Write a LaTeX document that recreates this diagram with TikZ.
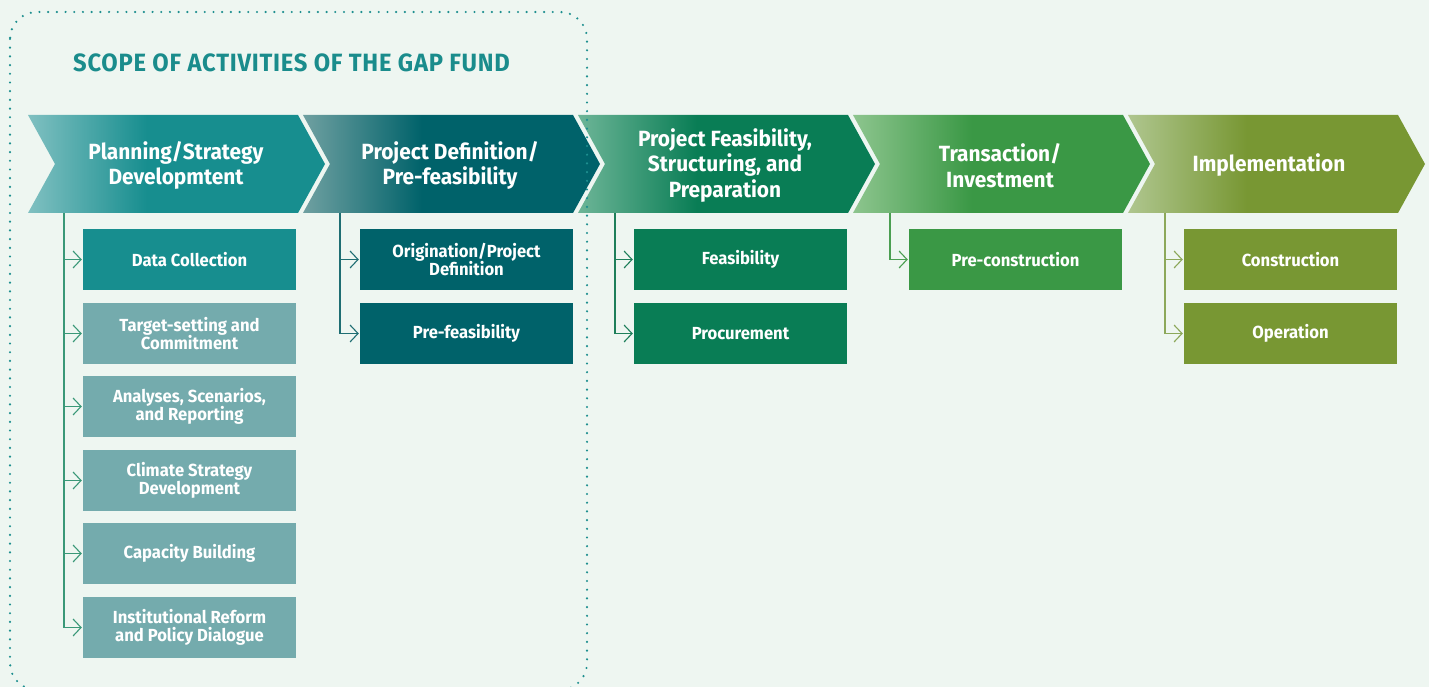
\documentclass[tikz,border=0pt]{standalone}
\usepackage{fontspec}
\usetikzlibrary{arrows.meta,calc}
\newfontfamily\hfont{Fira Sans}[FakeStretch=0.95]
\newfontfamily\ttlfont{Fira Sans}[FakeStretch=0.95,LetterSpace=3]
\definecolor{bg}{HTML}{EEF6F1}
\definecolor{dotc}{HTML}{1E8F8F}
\definecolor{titlec}{HTML}{1A8C8C}
\definecolor{c1full}{HTML}{178E8F}\definecolor{c1light}{HTML}{80C0C1}
\definecolor{c2full}{HTML}{00626A}\definecolor{c2light}{HTML}{6FA0A1}
\definecolor{c3full}{HTML}{097D55}\definecolor{c3light}{HTML}{6DB597}
\definecolor{c4full}{HTML}{3A9845}\definecolor{c4light}{HTML}{8DC58E}
\definecolor{c5full}{HTML}{789733}\definecolor{c5light}{HTML}{AFC68F}
\definecolor{sub1}{HTML}{74ABAD}
\definecolor{l1}{HTML}{3A9878}
\definecolor{l2}{HTML}{1F6E73}
\definecolor{l3}{HTML}{1E7F5A}
\definecolor{l4}{HTML}{4B9E52}
\definecolor{l5}{HTML}{8CA85A}
\pgfdeclarehorizontalshading{sh1}{100bp}{color(0bp)=(c1light); color(25bp)=(c1light); color(45bp)=(c1full); color(100bp)=(c1full)}
\pgfdeclarehorizontalshading{sh2}{100bp}{color(0bp)=(c2light); color(25bp)=(c2light); color(45bp)=(c2full); color(100bp)=(c2full)}
\pgfdeclarehorizontalshading{sh3}{100bp}{color(0bp)=(c3light); color(25bp)=(c3light); color(45bp)=(c3full); color(100bp)=(c3full)}
\pgfdeclarehorizontalshading{sh4}{100bp}{color(0bp)=(c4light); color(25bp)=(c4light); color(45bp)=(c4full); color(100bp)=(c4full)}
\pgfdeclarehorizontalshading{sh5}{100bp}{color(0bp)=(c5light); color(25bp)=(c5light); color(45bp)=(c5full); color(100bp)=(c5full)}
\newcommand\chevpath[2]{%
  \shade[shading=#2] (#1,115) -- ({#1+270},115) -- ({#1+297},164) -- ({#1+270},213) -- (#1,213) -- ({#1+27},164) -- cycle;}
\tikzset{
  headlbl/.style={text=white, align=center, font=\hfont\bfseries\fontsize{22}{25.5}\selectfont},
  subbox/.style={minimum width=213pt, minimum height=61pt, inner sep=0pt, text=white, align=center, font=\hfont\bfseries\fontsize{17.5}{18.5}\selectfont},
  conn/.style={line width=1.1pt},
  arr/.style={conn, -{Straight Barb[length=8pt,width=17pt,line width=1.1pt]}, shorten >=1pt},
}
\begin{document}
\begin{tikzpicture}[x=1pt,y=-1pt]
\useasboundingbox (0,0) rectangle (1429,687);
\fill[bg] (0,0) rectangle (1429,687);
% chevrons
\chevpath{28}{sh1}
\chevpath{303}{sh2}
\chevpath{578}{sh3}
\chevpath{853}{sh4}
\chevpath{1128}{sh5}
\node[headlbl] (h1) at (176,165.5) {Planning/Strategy\\Developmtent};
\node[headlbl] (h2) at (450,165.5) {Project Definition/\\Pre-feasibility};
\node[headlbl] (h3) at (725,165.5) {Project Feasibility,\\Structuring, and\\Preparation};
\node[headlbl] (h4) at (1000,165.5) {Transaction/\\Investment};
\node[headlbl] (h5) at (1269,165.5) {Implementation};
% sub boxes
\node[subbox, fill=c1full] (s11) at (189.5,259.5) {Data Collection};
\node[subbox, fill=sub1] (s12) at (189.5,333.5) {Target-setting and\\Commitment};
\node[subbox, fill=sub1] (s13) at (189.5,406.5) {Analyses, Scenarios,\\and Reporting};
\node[subbox, fill=sub1] (s14) at (189.5,480.5) {Climate Strategy\\Development};
\node[subbox, fill=sub1] (s15) at (189.5,553.5) {Capacity Building};
\node[subbox, fill=sub1] (s16) at (189.5,627.5) {Institutional Reform\\and Policy Dialogue};
\node[subbox, fill=c2full] (s21) at (466.5,259.5) {Origination/Project\\Definition};
\node[subbox, fill=c2full] (s22) at (466.5,333.5) {Pre-feasibility};
\node[subbox, fill=c3full] (s31) at (740.5,259.5) {Feasibility};
\node[subbox, fill=c3full] (s32) at (740.5,333.5) {Procurement};
\node[subbox, fill=c4full] (s41) at (1015.5,259.5) {Pre-construction};
\node[subbox, fill=c5full] (s51) at (1290.5,259.5) {Construction};
\node[subbox, fill=c5full] (s52) at (1290.5,333.5) {Operation};
% connectors
\coordinate (b1) at (64,213);
\coordinate (b2) at (340,213);
\coordinate (b3) at (615,213);
\coordinate (b4) at (890,213);
\coordinate (b5) at (1165,213);
\draw[arr, l1] (b1) |- (s16.west);
\foreach \s in {s11,s12,s13,s14,s15} \draw[arr, l1] (b1 |- \s.west) -- (\s.west);
\draw[arr, l2] (b2) |- (s22.west);
\draw[arr, l2] (b2 |- s21.west) -- (s21.west);
\draw[arr, l3] (b3) |- (s32.west);
\draw[arr, l3] (b3 |- s31.west) -- (s31.west);
\draw[arr, l4] (b4) |- (s41.west);
\draw[arr, l5] (b5) |- (s52.west);
\draw[arr, l5] (b5 |- s51.west) -- (s51.west);
% scope frame
\draw[dotc, line width=2.4pt, line cap=round, dash pattern=on 0pt off 8.7pt, rounded corners=27pt] (10,12) rectangle (587,690);
\node[anchor=west, text=titlec, font=\ttlfont\bfseries\fontsize{25}{28}\selectfont, inner sep=0pt] (title) at (73,63) {SCOPE OF ACTIVITIES OF THE GAP FUND};
\end{tikzpicture}
\end{document}
